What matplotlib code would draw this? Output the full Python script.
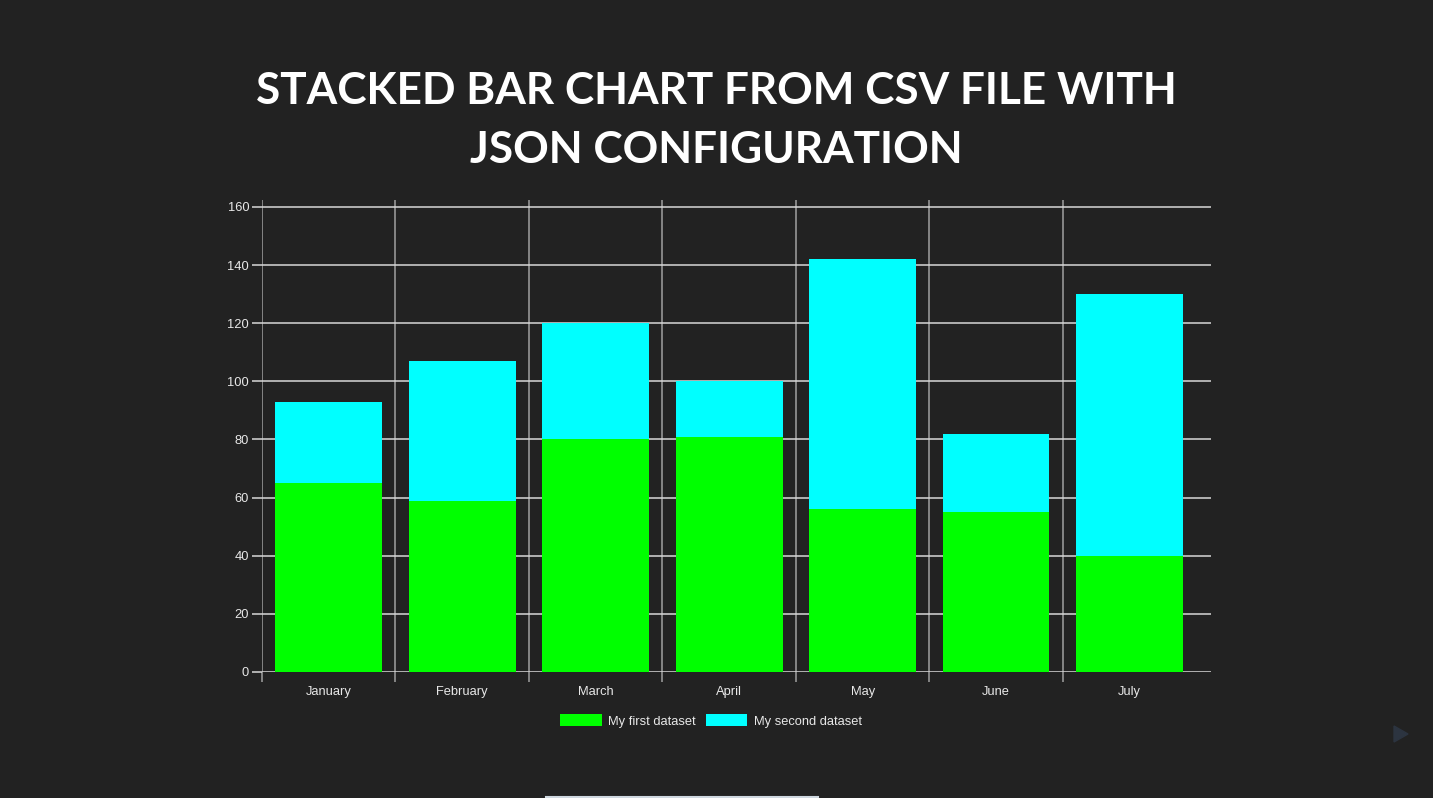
import matplotlib
matplotlib.use("Agg")
import matplotlib.pyplot as plt
from matplotlib.patches import Polygon
from matplotlib.lines import Line2D
import numpy as np

months = ["January", "February", "March", "April", "May", "June", "July"]
first_dataset = [65, 59, 80, 81, 56, 55, 40]
second_dataset = [28, 48, 40, 19, 86, 27, 90]
y_ticks = [0, 20, 40, 60, 80, 100, 120, 140, 160]
title = "STACKED BAR CHART FROM CSV FILE WITH\nJSON CONFIGURATION"

W, H = 1433, 798
BG = "#222222"
fig = plt.figure(figsize=(W / 100, H / 100), dpi=100, facecolor=BG)

# axes in pixel coords: left 262, right 1211, top 200, bottom 672
l, r, t, b = 262, 1211, 200, 672
ax = fig.add_axes([l / W, 1 - b / H, (r - l) / W, (b - t) / H])
ax.set_facecolor(BG)

x = np.arange(len(months))
ax.bar(x, first_dataset, width=0.8, color="#00ff00", label="My first dataset", zorder=3)
ax.bar(x, second_dataset, width=0.8, bottom=first_dataset, color="#00ffff",
       label="My second dataset", zorder=3)

ax.set_xlim(-0.5, 6.61)
ax.set_ylim(0, 162.4)

for s in ax.spines.values():
    s.set_visible(False)

# horizontal grid lines
ax.set_yticks(y_ticks)
ax.set_yticklabels([str(v) for v in y_ticks])
ax.yaxis.grid(True, color="#d8d8d8", linewidth=1.1, zorder=1)
# vertical grid lines at category boundaries
ax.set_xticks(np.arange(-0.5, 6.5, 1.0), minor=True)
ax.xaxis.grid(True, which="minor", color="#a0a0a0", linewidth=1.1, zorder=1)
ax.set_xticks(x)
ax.set_xticklabels(months)

ax.tick_params(axis="x", which="major", length=0, pad=10, labelsize=9.3, labelcolor="#e8e8e8")
ax.tick_params(axis="x", which="minor", length=7.2, width=1.1, color="#a0a0a0", direction="out")
ax.tick_params(axis="y", length=7.2, width=1.1, color="#d8d8d8", pad=2, labelsize=9.3,
               labelcolor="#e8e8e8")
for lab in ax.get_xticklabels() + ax.get_yticklabels():
    lab.set_fontfamily(["Liberation Sans", "DejaVu Sans"])

leg = fig.legend(loc="center", bbox_to_anchor=(711 / W, 1 - 721 / H), ncol=2, frameon=False,
                 handlelength=3.2, handleheight=1.0, handletextpad=0.5, columnspacing=0.8,
                 prop={"family": ["Liberation Sans", "DejaVu Sans"], "size": 9.3})
for txt in leg.get_texts():
    txt.set_color("#e8e8e8")

fig.text(716 / W, 1 - 120.5 / H, title, ha="center", va="center", color="white",
         fontsize=31.8, fontweight="bold", family=["Lato", "DejaVu Sans"], linespacing=1.585)

# decorative elements: bottom bar and play icon
fig.add_artist(Line2D([546 / W, 818 / W], [1 - 796.5 / H, 1 - 796.5 / H],
                      transform=fig.transFigure, color="#cfd8e0", linewidth=1.5))
fig.add_artist(Polygon([[1394 / W, 1 - 726 / H], [1394 / W, 1 - 742 / H], [1408 / W, 1 - 734 / H]],
                       closed=True, transform=fig.transFigure, color="#2c3440"))

fig.savefig("out.png", dpi=100, facecolor=BG)
